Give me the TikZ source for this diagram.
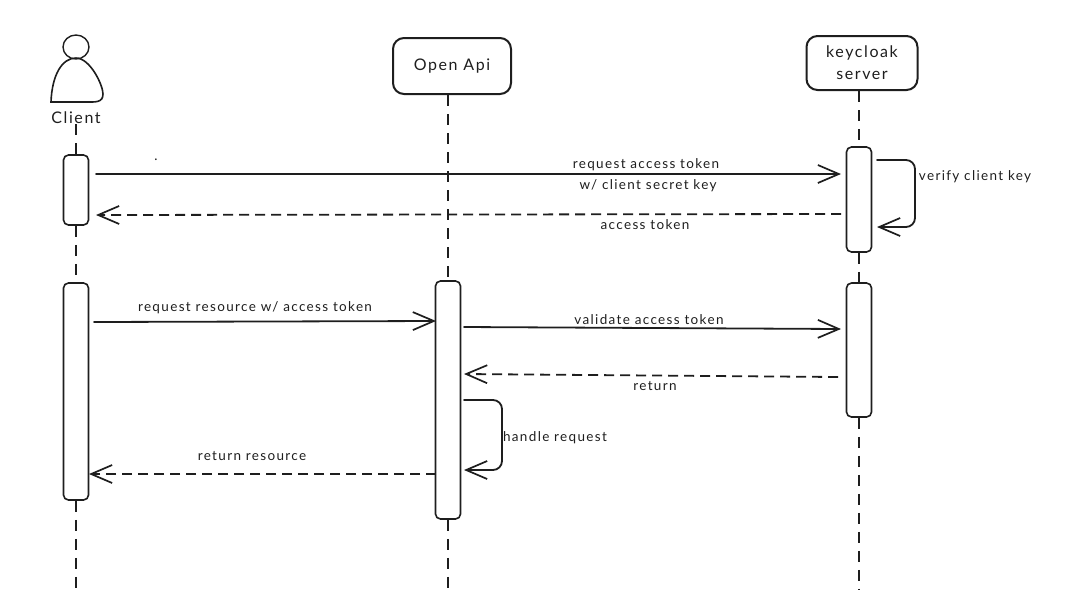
\documentclass[tikz,border=0pt]{standalone}
\usepackage{fontspec}
\setmainfont[LetterSpace=10]{Lato}
\usetikzlibrary{arrows.meta}

\begin{document}
\begin{tikzpicture}[
  x=1pt,y=-1pt,
  line cap=round,
  actor/.style={draw=ink,line width=2pt,rounded corners=11pt,inner sep=0pt,align=center,font=\fontsize{16}{22}\selectfont,text=ink},
  bar/.style={draw=ink,line width=1.6pt,fill=white,rounded corners=5pt,inner sep=0pt,minimum width=25pt},
  lifeline/.style={draw=ink,line width=1.9pt,dash pattern=on 11pt off 8pt,line cap=butt},
  msg/.style={draw=ink,line width=1.8pt,-{Straight Barb[length=21pt,width=18pt,line width=1.7pt]}},
  reply/.style={msg,dash pattern=on 10pt off 6pt,line cap=butt},
  txt/.style={font=\fontsize{13.5}{15}\selectfont,text=ink,inner sep=0pt},
  ]
\definecolor{ink}{HTML}{1E1E1E}
\useasboundingbox (0,0) rectangle (1067,590);
% actors
\draw[ink,line width=1.4pt] (76,47) ellipse (13 and 12);
\draw[ink,line width=1.6pt] (51,102) .. controls (52,75) and (62,58) .. (76,58) .. controls (90,58) and (103,85) .. (103,94) .. controls (103,103) and (95,102) .. (85,102) -- cycle;
\node[txt,font=\fontsize{16}{18}\selectfont] (client) at (76,118) {Client};
\node[actor,minimum width=118pt,minimum height=56pt] (api) at (452,66) {Open Api};
\node[actor,minimum width=111pt,minimum height=54pt] (kc) at (862,63) {keycloak\\server};
% activation bars
\node[bar,minimum height=70pt] (clientA) at (76,190) {};
\node[bar,minimum height=217pt] (clientB) at (76,391.5) {};
\node[bar,minimum height=238pt] (apiA) at (448,400) {};
\node[bar,minimum height=105pt] (kcA) at (859,199.5) {};
\node[bar,minimum height=134pt] (kcB) at (859,350) {};
% lifeline ends
\coordinate (clientEnd) at (76,590);
\coordinate (apiEnd) at (448,590);
\coordinate (kcEnd) at (859,590);
\draw[lifeline] (client.south -| clientA) -- (clientA);
\draw[lifeline] (clientA) -- (clientB);
\draw[lifeline] (clientB) -- (clientEnd);
\draw[lifeline] (api.south -| apiA) -- (apiA);
\draw[lifeline] (apiA) -- (apiEnd);
\draw[lifeline] (kc.south -| kcA) -- (kcA);
\draw[lifeline] (kcA) -- (kcB);
\draw[lifeline] (kcB) -- (kcEnd);
% message ends
\coordinate (m1a) at (96,174);    \coordinate (m1b) at (841,174);
\coordinate (m2a) at (841,214);   \coordinate (m2b) at (96,215);
\coordinate (s1a) at (877,160);   \coordinate (s1b) at (877,227);
\coordinate (m3a) at (94,322);    \coordinate (m3b) at (436,321);
\coordinate (m4a) at (464,327);   \coordinate (m4b) at (841,329);
\coordinate (m5a) at (838,377);   \coordinate (m5b) at (464,374);
\coordinate (s2a) at (464,400);   \coordinate (s2b) at (464,470);
\coordinate (m6a) at (436,474);   \coordinate (m6b) at (89,474);
\draw[msg] (m1a) -- (m1b);
\draw[reply] (m2a) -- (m2b);
\draw[msg,rounded corners=9pt] (s1a) -- (915,160) -- (915,227) -- (s1b);
\draw[msg] (m3a) -- (m3b);
\draw[msg] (m4a) -- (m4b);
\draw[reply] (m5a) -- (m5b);
\draw[msg,rounded corners=9pt] (s2a) -- (502,400) -- (502,470) -- (s2b);
\draw[reply] (m6a) -- (m6b);
% labels
\node[txt] (l1) at (646,165) {request access token};
\node[txt] (l2) at (648,186) {w/ client secret key};
\node[txt] (l3) at (645,225) {access token};
\node[txt] (l4) at (975,177) {verify client key};
\node[txt] (l5) at (255,308) {request resource w/ access token};
\node[txt] (l6) at (649,320) {validate access token};
\node[txt] (l7) at (655,386) {return};
\node[txt] (l8) at (555,438) {handle request};
\node[txt] (l9) at (252,456) {return resource};
\node[txt] (dot) at (156,160) {.};
\end{tikzpicture}
\end{document}
